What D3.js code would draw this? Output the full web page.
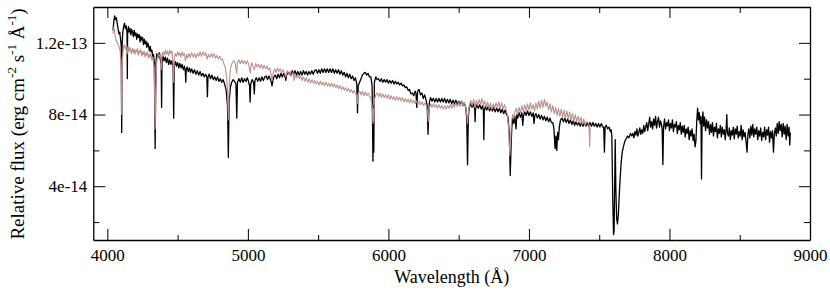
<!DOCTYPE html>
<html>
<head>
<meta charset="utf-8">
<script src="https://cdn.jsdelivr.net/npm/d3@7"></script>
<style>
  body { margin: 0; background: #fff; }
  svg text { font-family: "Liberation Serif", "Times New Roman", serif; fill: #000; }
</style>
</head>
<body>
<div id="chart"></div>
<script>
// flux values are in units of 1e-14 erg cm^-2 s^-1 A^-1

// observed spectrum (black): [wavelength, flux]
var observed = [
  [4040,12.7],[4046,13.2],[4052,13.5],[4058,13.3],[4064,13.4],[4070,13.1],[4076,12.8],[4082,12.5],[4088,12.6],[4094,12.2],
  [4099,11.8],[4102,7.0],[4105,11.9],[4110,12.6],[4116,12.9],[4122,13.1],[4128,12.8],[4134,12.95],[4140,12.6],[4142,10.0],
  [4144,12.5],[4150,12.9],[4156,12.6],[4161,12.8],[4167,12.45],[4173,12.75],[4179,12.6],[4185,12.35],[4191,12.7],[4197,12.4],
  [4203,12.55],[4209,12.2],[4215,12.5],[4221,12.3],[4227,12.45],[4233,12.05],[4239,12.35],[4245,12.15],[4251,12.3],[4257,11.9],
  [4263,12.2],[4269,11.95],[4275,12.1],[4281,11.75],[4287,12.0],[4293,11.85],[4299,11.55],[4305,11.8],[4311,11.5],[4317,11.6],
  [4323,11.25],[4329,11.35],[4334,10.9],[4340,6.1],[4346,10.9],[4352,11.4],[4360,11.2],[4368,11.45],[4376,11.1],[4383,10.8],
  [4386,8.4],[4389,10.9],[4396,11.25],[4404,11.0],[4412,11.2],[4420,10.9],[4428,11.15],[4436,10.8],[4444,11.05],[4452,10.8],
  [4460,11.0],[4468,10.6],[4472,7.8],[4476,10.7],[4484,10.95],[4492,10.7],[4500,10.9],[4508,10.6],[4516,10.85],[4524,10.6],
  [4532,10.8],[4540,10.5],[4548,10.7],[4555,10.4],[4558,9.8],[4561,10.5],[4568,10.65],[4576,10.4],[4584,10.6],[4592,10.35],
  [4600,10.55],[4610,10.3],[4620,10.5],[4630,10.25],[4640,10.45],[4650,10.2],[4660,10.4],[4670,10.15],[4680,10.3],[4690,10.1],
  [4700,10.25],[4708,10.1],[4712,9.0],[4716,10.1],[4724,10.25],[4734,10.0],[4744,10.2],[4754,9.95],[4764,10.1],[4774,9.9],
  [4784,10.1],[4794,9.85],[4804,10.0],[4814,9.8],[4824,9.95],[4834,9.7],[4845,9.4],[4855,8.5],[4861,5.6],[4866,8.6],
  [4875,9.5],[4885,9.8],[4895,9.95],[4905,9.85],[4915,9.7],[4921,7.8],[4926,9.8],[4936,10.0],[4946,9.8],[4956,10.05],
  [4966,9.8],[4976,10.0],[4986,9.85],[4996,10.05],[5006,9.8],[5012,9.6],[5016,8.7],[5020,9.7],[5030,9.95],[5040,9.8],
  [5046,9.15],[5050,9.9],[5060,10.05],[5070,9.85],[5080,10.05],[5090,9.85],[5100,10.1],[5110,9.9],[5120,10.1],[5130,10.15],
  [5140,9.95],[5150,10.15],[5160,9.95],[5167,9.8],[5172,9.6],[5178,9.9],[5185,10.1],[5195,10.2],[5205,10.0],[5215,10.25],
  [5225,10.05],[5235,10.3],[5245,10.1],[5255,10.3],[5265,10.1],[5270,9.9],[5275,10.2],[5285,10.35],[5295,10.3],[5305,10.2],
  [5315,10.45],[5325,10.25],[5335,10.45],[5345,10.2],[5355,10.4],[5365,10.2],[5375,10.4],[5385,10.2],[5395,10.45],[5405,10.25],
  [5415,10.4],[5425,10.2],[5435,10.4],[5445,10.25],[5455,10.45],[5465,10.25],[5475,10.45],[5485,10.5],[5495,10.3],[5505,10.5],
  [5515,10.3],[5525,10.55],[5535,10.35],[5545,10.55],[5555,10.35],[5565,10.55],[5575,10.35],[5585,10.55],[5595,10.35],[5605,10.55],
  [5615,10.3],[5625,10.5],[5635,10.3],[5645,10.5],[5655,10.25],[5665,10.45],[5675,10.2],[5685,10.35],[5695,10.1],[5705,10.3],
  [5715,10.05],[5725,10.25],[5735,10.0],[5745,10.15],[5755,9.9],[5765,10.05],[5775,9.7],[5780,8.1],[5785,9.6],[5795,9.8],
  [5805,10.0],[5815,10.2],[5825,10.3],[5835,10.35],[5845,10.2],[5855,10.3],[5865,10.1],[5875,10.1],[5884,9.6],[5890,5.4],
  [5893,8.5],[5896,5.9],[5900,9.8],[5910,10.1],[5920,9.95],[5930,10.0],[5940,9.85],[5950,10.0],[5960,9.8],[5970,9.95],
  [5980,9.8],[5990,9.95],[6000,9.75],[6010,9.9],[6020,9.75],[6030,9.9],[6040,9.7],[6050,9.85],[6060,9.7],[6070,9.8],
  [6080,9.65],[6090,9.75],[6100,9.6],[6110,9.65],[6120,9.5],[6130,9.55],[6140,9.35],[6150,9.4],[6160,9.15],[6170,9.2],
  [6180,9.05],[6190,9.3],[6196,9.2],[6202,8.4],[6208,9.3],[6218,9.4],[6228,9.1],[6238,9.2],[6248,8.9],[6258,9.1],
  [6268,8.8],[6276,8.5],[6282,6.9],[6287,8.0],[6292,8.7],[6300,8.95],[6310,8.75],[6320,8.9],[6330,8.7],[6340,8.9],
  [6350,8.7],[6360,8.9],[6370,8.7],[6380,8.9],[6390,8.7],[6400,8.9],[6410,8.65],[6420,8.85],[6430,8.65],[6440,8.85],
  [6450,8.6],[6460,8.8],[6470,8.6],[6480,8.8],[6490,8.55],[6500,8.75],[6510,8.55],[6520,8.75],[6530,8.5],[6540,8.65],
  [6550,8.4],[6557,7.8],[6563,5.2],[6569,7.9],[6575,8.4],[6585,8.6],[6595,8.4],[6605,8.6],[6614,8.3],[6617,7.6],
  [6620,8.3],[6630,8.55],[6640,8.35],[6650,8.55],[6660,8.3],[6670,8.5],[6676,8.2],[6679,6.6],[6682,8.2],[6690,8.45],
  [6700,8.25],[6710,8.45],[6720,8.2],[6730,8.4],[6740,8.2],[6750,8.4],[6760,8.15],[6770,8.35],[6780,8.15],[6790,8.35],
  [6800,8.1],[6810,8.3],[6820,8.05],[6830,8.25],[6840,8.0],[6850,7.9],[6860,7.0],[6867,4.6],[6872,6.0],[6878,7.3],
  [6885,7.8],[6892,7.5],[6900,7.9],[6908,7.2],[6914,8.0],[6920,7.8],[6930,8.1],[6940,7.85],[6950,8.1],[6956,7.4],
  [6962,7.95],[6970,8.15],[6980,7.95],[6990,8.2],[7000,7.95],[7010,8.15],[7020,7.9],[7030,8.1],[7036,7.5],[7042,7.95],
  [7050,8.05],[7060,7.8],[7070,8.0],[7080,7.75],[7090,7.95],[7100,7.7],[7110,7.9],[7120,7.65],[7130,7.85],[7140,7.6],
  [7150,7.8],[7160,7.55],[7170,7.55],[7178,7.2],[7186,6.1],[7192,6.8],[7198,6.0],[7204,7.0],[7210,6.6],[7216,7.3],
  [7225,7.7],[7235,7.8],[7245,7.6],[7255,7.8],[7265,7.55],[7275,7.75],[7285,7.5],[7295,7.7],[7305,7.45],[7315,7.65],
  [7325,7.4],[7335,7.6],[7345,7.4],[7355,7.55],[7365,7.35],[7375,7.55],[7385,7.35],[7395,7.55],[7405,7.35],[7415,7.55],
  [7425,7.35],[7435,7.55],[7445,7.35],[7455,7.55],[7465,7.35],[7475,7.5],[7485,7.3],[7495,7.5],[7505,7.3],[7515,7.5],
  [7525,7.3],[7532,7.3],[7537,5.9],[7542,7.3],[7550,7.4],[7560,7.2],[7570,7.3],[7580,7.05],[7585,7.15],[7590,6.8],
  [7596,3.5],[7602,1.3],[7606,1.5],[7610,4.0],[7614,6.6],[7618,4.0],[7624,2.2],[7630,1.9],[7636,2.4],[7642,3.4],
  [7648,4.3],[7656,5.3],[7664,5.9],[7672,6.2],[7682,6.5],[7692,6.65],[7702,6.8],[7712,6.7],[7722,6.95],[7732,6.8],
  [7740,6.95],[7747,6.7],[7754,7.05],[7761,6.85],[7768,7.2],[7775,6.8],[7782,7.0],[7789,7.25],[7796,6.9],[7803,7.15],
  [7810,6.95],[7817,7.4],[7824,7.05],[7831,7.3],[7838,7.55],[7845,7.1],[7852,7.45],[7859,7.85],[7866,7.3],[7873,7.6],
  [7880,7.2],[7887,7.75],[7894,7.4],[7901,7.9],[7908,7.25],[7915,7.6],[7922,7.85],[7929,7.3],[7936,7.65],[7943,7.45],
  [7948,7.2],[7953,5.2],[7958,7.3],[7965,7.75],[7972,7.2],[7979,7.55],[7986,7.35],[7993,7.7],[8000,7.1],[8007,7.5],
  [8014,7.25],[8021,7.7],[8028,7.05],[8035,7.45],[8042,7.3],[8049,7.6],[8056,6.95],[8063,7.4],[8070,7.15],[8077,7.55],
  [8084,6.9],[8091,7.35],[8098,7.0],[8105,7.4],[8112,6.75],[8119,7.2],[8126,6.95],[8133,7.3],[8140,6.6],[8147,7.1],
  [8154,6.8],[8161,7.2],[8168,6.55],[8175,6.9],[8182,6.2],[8188,6.5],[8194,7.6],[8200,8.35],[8206,7.7],[8212,8.1],
  [8218,7.5],[8224,7.9],[8228,4.4],[8232,7.4],[8238,8.15],[8244,7.35],[8250,7.85],[8257,7.1],[8264,7.7],[8271,7.25],
  [8278,7.6],[8285,6.9],[8292,7.45],[8299,7.0],[8306,7.55],[8313,6.8],[8320,7.3],[8327,7.05],[8334,7.5],[8341,6.7],
  [8348,7.2],[8355,6.95],[8362,7.4],[8369,6.75],[8376,7.3],[8383,6.9],[8390,7.15],[8397,6.6],[8404,7.35],[8408,8.0],
  [8412,7.0],[8419,6.8],[8426,7.25],[8433,6.6],[8440,7.1],[8447,6.85],[8454,7.3],[8461,6.65],[8468,7.2],[8475,6.9],
  [8482,7.35],[8489,6.7],[8496,7.05],[8503,6.8],[8510,7.4],[8517,6.6],[8524,7.15],[8531,6.75],[8538,7.0],[8545,6.5],
  [8552,5.9],[8558,6.9],[8565,7.2],[8572,6.7],[8579,7.35],[8586,6.85],[8593,7.45],[8600,6.75],[8607,7.2],[8614,6.9],
  [8621,7.3],[8628,6.6],[8635,7.1],[8642,6.8],[8649,7.25],[8656,6.55],[8663,7.0],[8670,6.75],[8677,7.3],[8684,6.6],
  [8691,7.15],[8698,6.85],[8705,7.3],[8712,6.45],[8719,7.05],[8726,6.7],[8733,7.1],[8740,5.9],[8746,6.9],[8753,7.25],
  [8760,6.8],[8767,7.5],[8774,6.95],[8781,7.6],[8788,7.1],[8795,7.45],[8802,6.75],[8809,7.5],[8816,6.9],[8823,7.35],
  [8830,6.6],[8837,7.45],[8844,6.8],[8851,7.3],[8856,6.3],[8860,7.0]
];

// model spectrum (rosy brown): [wavelength, flux]
var model = [
  [4040,12.5],[4046,12.9],[4052,12.6],[4058,12.3],[4064,12.1],[4070,12.0],[4076,11.9],[4082,11.8],[4090,11.6],[4097,11.0],
  [4102,8.0],[4107,11.1],[4114,11.7],[4120,11.9],[4128,11.65],[4136,11.85],[4142,11.4],[4148,11.8],[4154,11.5],[4160,11.75],
  [4166,11.6],[4172,11.4],[4178,11.7],[4184,11.45],[4190,11.65],[4196,11.35],[4202,11.6],[4208,11.5],[4214,11.7],[4220,11.3],
  [4226,11.55],[4232,11.45],[4238,11.65],[4244,11.25],[4250,11.5],[4256,11.35],[4262,11.55],[4268,11.2],[4274,11.45],[4280,11.3],
  [4286,11.5],[4292,11.15],[4298,11.35],[4304,11.2],[4310,11.4],[4316,11.05],[4322,11.2],[4328,10.9],[4334,10.6],[4340,7.2],
  [4348,10.7],[4356,11.2],[4364,11.4],[4372,11.25],[4380,11.4],[4384,10.5],[4388,11.2],[4396,11.5],[4404,11.3],[4412,11.6],
  [4420,11.35],[4428,11.55],[4436,11.3],[4444,11.6],[4452,11.4],[4460,11.55],[4466,11.0],[4471,9.8],[4476,11.1],[4484,11.4],
  [4492,11.25],[4500,11.5],[4508,11.3],[4516,11.45],[4524,11.2],[4532,11.5],[4540,11.3],[4548,11.4],[4556,11.0],[4564,11.35],
  [4572,11.15],[4580,11.4],[4590,11.2],[4600,11.45],[4610,11.2],[4620,11.4],[4630,11.15],[4640,11.4],[4650,11.25],[4660,11.5],
  [4670,11.25],[4680,11.5],[4690,11.3],[4700,11.45],[4710,11.1],[4720,11.35],[4730,11.2],[4740,11.4],[4750,11.2],[4760,11.4],
  [4770,11.15],[4780,11.3],[4790,11.1],[4800,11.25],[4810,11.05],[4820,11.1],[4830,10.8],[4840,10.6],[4850,10.0],[4856,9.0],
  [4861,7.7],[4866,9.2],[4872,10.3],[4880,10.7],[4890,10.9],[4900,11.0],[4910,10.85],[4920,10.3],[4926,10.9],[4936,11.05],
  [4946,10.85],[4956,11.05],[4966,10.85],[4976,11.0],[4986,10.8],[4996,11.0],[5006,10.8],[5016,10.3],[5026,10.9],[5036,10.7],
  [5046,10.5],[5056,10.85],[5066,10.65],[5076,10.8],[5086,10.6],[5096,10.8],[5106,10.55],[5116,10.75],[5126,10.55],[5136,10.7],
  [5146,10.5],[5156,10.6],[5166,10.2],[5172,9.9],[5180,10.3],[5190,10.55],[5200,10.35],[5210,10.6],[5220,10.4],[5230,10.55],
  [5240,10.35],[5250,10.5],[5260,10.3],[5270,10.1],[5280,10.45],[5290,10.25],[5300,10.4],[5310,10.15],[5320,10.35],[5330,9.9],
  [5336,10.25],[5346,10.05],[5356,10.2],[5366,10.0],[5376,10.15],[5386,9.9],[5396,10.1],[5406,9.85],[5416,10.05],[5426,9.8],
  [5436,10.0],[5446,9.75],[5456,9.95],[5466,9.75],[5476,9.9],[5486,9.7],[5496,9.85],[5506,9.65],[5516,9.85],[5526,9.65],
  [5536,9.8],[5546,9.6],[5556,9.8],[5566,9.6],[5576,9.75],[5586,9.55],[5596,9.75],[5606,9.55],[5616,9.7],[5626,9.5],
  [5636,9.65],[5646,9.45],[5656,9.6],[5666,9.4],[5676,9.55],[5686,9.35],[5696,9.5],[5706,9.3],[5716,9.45],[5726,9.25],
  [5736,9.4],[5746,9.2],[5756,9.35],[5766,9.15],[5776,9.1],[5781,8.6],[5786,9.2],[5796,9.3],[5806,9.1],[5816,9.3],
  [5826,9.05],[5836,9.25],[5846,9.05],[5856,9.2],[5866,9.0],[5876,8.9],[5884,8.5],[5890,7.5],[5893,8.3],[5896,7.6],
  [5900,8.8],[5910,9.1],[5920,9.2],[5930,9.0],[5940,9.2],[5950,8.95],[5960,9.15],[5970,8.95],[5980,9.1],[5990,8.9],
  [6000,9.1],[6010,8.85],[6020,9.05],[6030,8.85],[6040,9.0],[6050,8.8],[6060,9.0],[6070,8.8],[6080,8.95],[6090,8.75],
  [6100,8.95],[6110,8.7],[6120,8.9],[6130,8.7],[6140,8.85],[6150,8.65],[6160,8.85],[6170,8.65],[6180,8.8],[6190,8.6],
  [6200,8.75],[6210,8.55],[6220,8.75],[6230,8.55],[6240,8.7],[6250,8.5],[6260,8.65],[6270,8.5],[6278,8.2],[6284,7.6],
  [6290,8.3],[6300,8.6],[6310,8.4],[6320,8.6],[6330,8.4],[6340,8.55],[6350,8.35],[6360,8.55],[6370,8.35],[6380,8.5],
  [6390,8.3],[6400,8.5],[6410,8.3],[6420,8.5],[6430,8.35],[6440,8.55],[6450,8.35],[6460,8.6],[6470,8.4],[6480,8.65],
  [6490,8.45],[6500,8.7],[6510,8.45],[6520,8.75],[6530,8.5],[6540,8.7],[6550,8.4],[6557,8.0],[6563,7.5],[6569,8.1],
  [6576,8.5],[6586,8.8],[6596,8.5],[6606,8.85],[6616,8.4],[6626,8.8],[6636,8.5],[6646,8.85],[6656,8.55],[6666,8.9],
  [6676,8.5],[6686,8.75],[6696,8.4],[6706,8.7],[6716,8.35],[6726,8.65],[6736,8.3],[6746,8.6],[6756,8.35],[6766,8.65],
  [6776,8.4],[6786,8.7],[6796,8.35],[6806,8.65],[6816,8.3],[6826,8.55],[6836,8.3],[6846,8.0],[6856,7.2],[6864,5.7],
  [6870,6.5],[6876,7.6],[6884,8.0],[6892,7.8],[6900,8.15],[6910,8.35],[6920,8.0],[6930,8.4],[6940,8.1],[6950,8.5],
  [6960,8.15],[6970,8.55],[6980,8.2],[6990,8.6],[7000,8.25],[7010,8.65],[7020,8.3],[7030,8.55],[7040,8.2],[7050,8.65],
  [7060,8.3],[7070,8.75],[7080,8.35],[7090,8.8],[7100,8.4],[7110,8.85],[7120,8.45],[7130,8.7],[7140,8.25],[7150,8.6],
  [7160,8.15],[7170,8.5],[7180,8.05],[7190,8.4],[7200,7.95],[7210,8.35],[7220,7.9],[7230,8.3],[7240,7.85],[7250,8.25],
  [7260,7.8],[7270,8.2],[7280,7.75],[7290,8.15],[7300,7.7],[7310,8.05],[7320,7.65],[7330,8.0],[7340,7.6],[7350,7.9],
  [7360,7.55],[7370,7.85],[7380,7.45],[7390,7.75],[7400,7.4],[7410,7.6],[7420,7.55],[7428,7.4],[7432,6.2],[7436,7.3]
];

var xTicks = [4000, 5000, 6000, 7000, 8000, 9000];
var xMinorTicks = [4500, 5500, 6500, 7500, 8500];
var yTicks = [4, 8, 12];
var yTickLabels = ["4e-14", "8e-14", "1.2e-13"];
var yMinorTicks = [2, 6, 10];

var width = 830, height = 291;
var margin = {top: 7, right: 20, bottom: 51, left: 93.3};
var w = width - margin.left - margin.right,
    h = height - margin.top - margin.bottom;

var svg = d3.select("#chart")
  .append("svg")
  .attr("width", width)
  .attr("height", height)
  .append("g")
  .attr("transform", "translate(" + margin.left + "," + margin.top + ")");

var x = d3.scaleLinear().domain([3900, 9000]).range([0, w]);
var y = d3.scaleLinear().domain([1, 14]).range([h, 0]);

// clip the spectra to the frame
svg.append("clipPath").attr("id", "clip")
  .append("rect").attr("width", w).attr("height", h);

var line = d3.line()
  .x(d => x(d[0]))
  .y(d => y(d[1]));

svg.append("path")
  .datum(observed)
  .attr("clip-path", "url(#clip)")
  .attr("fill", "none")
  .attr("stroke", "#000")
  .attr("stroke-width", 1.3)
  .attr("stroke-linejoin", "round")
  .attr("d", line);

svg.append("path")
  .datum(model)
  .attr("clip-path", "url(#clip)")
  .attr("fill", "none")
  .attr("stroke", "#bc8f8f")
  .attr("stroke-width", 1.1)
  .attr("stroke-linejoin", "round")
  .attr("d", line);

// axes, ticks pointing inward on all four sides
function styleAxis(g) {
  g.attr("font-family", null);
  g.selectAll("path.domain").attr("stroke", "#000").attr("stroke-width", 1.3);
  g.selectAll(".tick line").attr("stroke", "#000").attr("stroke-width", 1);
  g.selectAll(".tick text").style("font-size", "17px")
    .style("font-family", "'Liberation Serif', serif").attr("fill", "#000");
}

svg.append("g")
  .attr("transform", "translate(0," + h + ")")
  .call(d3.axisBottom(x).tickValues(xTicks).tickFormat(d3.format("d"))
    .tickSizeInner(-11).tickSizeOuter(0).tickPadding(9))
  .call(styleAxis);

svg.append("g")
  .attr("transform", "translate(0," + h + ")")
  .call(d3.axisBottom(x).tickValues(xMinorTicks).tickFormat("")
    .tickSizeInner(-5).tickSizeOuter(0))
  .call(g => g.select(".domain").remove())
  .call(styleAxis);

svg.append("g")
  .call(d3.axisTop(x).tickValues(xTicks).tickFormat("")
    .tickSizeInner(-11).tickSizeOuter(0))
  .call(styleAxis);

svg.append("g")
  .call(d3.axisTop(x).tickValues(xMinorTicks).tickFormat("")
    .tickSizeInner(-6).tickSizeOuter(0))
  .call(g => g.select(".domain").remove())
  .call(styleAxis);

svg.append("g")
  .call(d3.axisLeft(y).tickValues(yTicks).tickFormat((d, i) => yTickLabels[i])
    .tickSizeInner(-12).tickSizeOuter(0).tickPadding(6))
  .call(styleAxis);

svg.append("g")
  .call(d3.axisLeft(y).tickValues(yMinorTicks).tickFormat("")
    .tickSizeInner(-6).tickSizeOuter(0))
  .call(g => g.select(".domain").remove())
  .call(styleAxis);

svg.append("g")
  .attr("transform", "translate(" + w + ",0)")
  .call(d3.axisRight(y).tickValues(yTicks).tickFormat("")
    .tickSizeInner(-11).tickSizeOuter(0))
  .call(styleAxis);

svg.append("g")
  .attr("transform", "translate(" + w + ",0)")
  .call(d3.axisRight(y).tickValues(yMinorTicks).tickFormat("")
    .tickSizeInner(-6).tickSizeOuter(0))
  .call(g => g.select(".domain").remove())
  .call(styleAxis);

// x label
svg.append("text")
  .attr("text-anchor", "middle")
  .attr("x", w / 2)
  .attr("y", h + 43)
  .style("font-size", "18px")
  .text("Wavelength (Å)");

// y label
var ylab = svg.append("text")
  .attr("text-anchor", "middle")
  .attr("transform", "rotate(-90)")
  .attr("x", -117)
  .attr("y", -69)
  .style("font-size", "19px");
ylab.append("tspan").text("Relative flux (erg cm");
ylab.append("tspan").attr("dy", -8).style("font-size", "13px").text("-2");
ylab.append("tspan").attr("dy", 8).text(" s");
ylab.append("tspan").attr("dy", -8).style("font-size", "13px").text("-1");
ylab.append("tspan").attr("dy", 8).text(" Å");
ylab.append("tspan").attr("dy", -8).style("font-size", "13px").text("-1");
ylab.append("tspan").attr("dy", 8).text(")");
</script>
</body>
</html>
